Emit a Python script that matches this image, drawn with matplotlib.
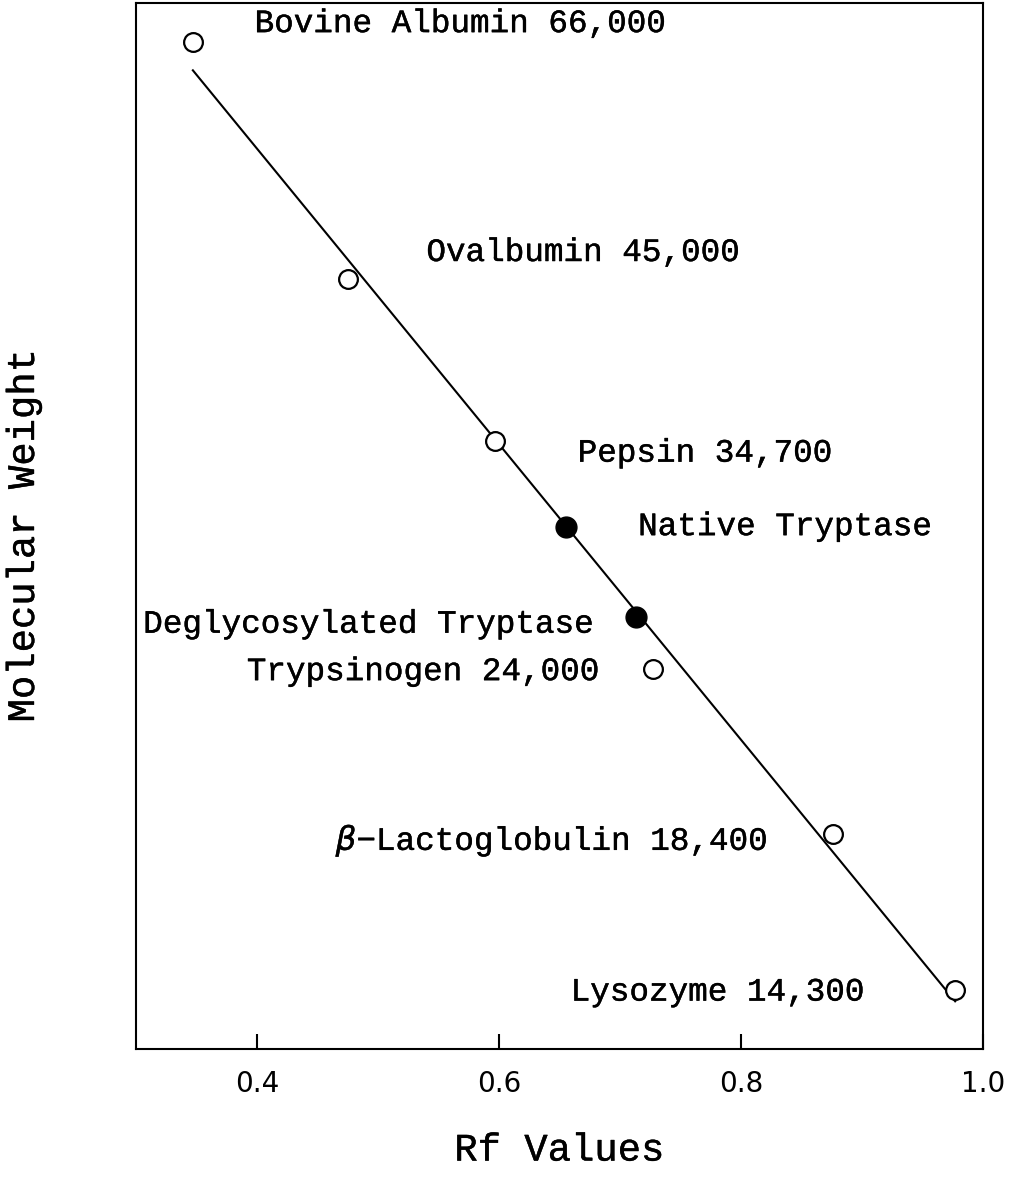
import numpy as np
import matplotlib
matplotlib.use("Agg")
import matplotlib.pyplot as plt
import matplotlib.patheffects as pe

# standards (open circles)
std_names = ["Bovine Albumin 66,000", "Ovalbumin 45,000", "Pepsin 34,700",
             "Trypsinogen 24,000", r"$\beta$" + "\u2212Lactoglobulin 18,400", "Lysozyme 14,300"]
std_rf = [0.347, 0.475, 0.597, 0.727, 0.876, 0.977]
std_mw = [66000, 45000, 34700, 24000, 18400, 14300]

# tryptase (filled circles)
tryp_names = ["Native Tryptase", "Deglycosylated Tryptase"]
tryp_rf = [0.655, 0.713]
tryp_mw = [30200, 26100]

# label anchor points (data coords) and alignment
lab_x = [0.398, 0.540, 0.665, 0.6835, 0.822, 0.9025]
lab_y = [68000, 47000, 34000, 23900, 18200, 14250]
lab_ha = ["left", "left", "left", "right", "right", "right"]
tlab_x = [0.715, 0.679]
tlab_y = [30200, 25800]
tlab_ha = ["left", "right"]

xticks = [0.4, 0.6, 0.8, 1.0]

fig = plt.figure(figsize=(10.14, 11.89), dpi=100)
ax = fig.add_axes([136 / 1014, 140 / 1189, 847 / 1014, 1046 / 1189])

# least-squares line of log MW vs Rf through the standards
k, b = np.polyfit(std_rf, np.log10(std_mw), 1)
xl = np.array([std_rf[0], std_rf[-1]])
ax.plot(xl, 10 ** (k * xl + b), color="black", lw=1.5, zorder=1)

ax.plot(std_rf, std_mw, "o", ms=13.5, mfc="white", mec="black", mew=1.6, zorder=3)
ax.plot(tryp_rf, tryp_mw, "o", ms=15, mfc="black", mec="black", zorder=3)

thick = [pe.withStroke(linewidth=0.3, foreground="black")]
lab_font = dict(family="Liberation Mono", size=23.5, color="black", path_effects=thick)
for name, x, y, ha in zip(std_names, lab_x, lab_y, lab_ha):
    ax.text(x, y, name, ha=ha, va="center", **lab_font)
for name, x, y, ha in zip(tryp_names, tlab_x, tlab_y, tlab_ha):
    ax.text(x, y, name, ha=ha, va="center", **lab_font)

ax.set_yscale("log")
ax.set_xlim(0.3, 1.0)
ax.set_ylim(13000, 70300)
ax.set_xticks(xticks)
ax.set_xticklabels([f"{t:.1f}" for t in xticks], family="DejaVu Sans", size=20)
ax.tick_params(axis="x", direction="in", length=11, width=1.5, pad=15)
ax.set_yticks([])
ax.yaxis.set_minor_locator(matplotlib.ticker.NullLocator())
ax.xaxis.set_minor_locator(matplotlib.ticker.NullLocator())
for sp in ax.spines.values():
    sp.set_linewidth(1.5)

ax.set_xlabel("Rf Values", family="Liberation Mono", size=28, labelpad=25,
              path_effects=thick)
ax.set_ylabel("Molecular Weight", family="Liberation Mono", size=28,
              path_effects=thick)
ax.yaxis.set_label_coords(-0.111, 0.491)

fig.savefig("out.png", dpi=100)
